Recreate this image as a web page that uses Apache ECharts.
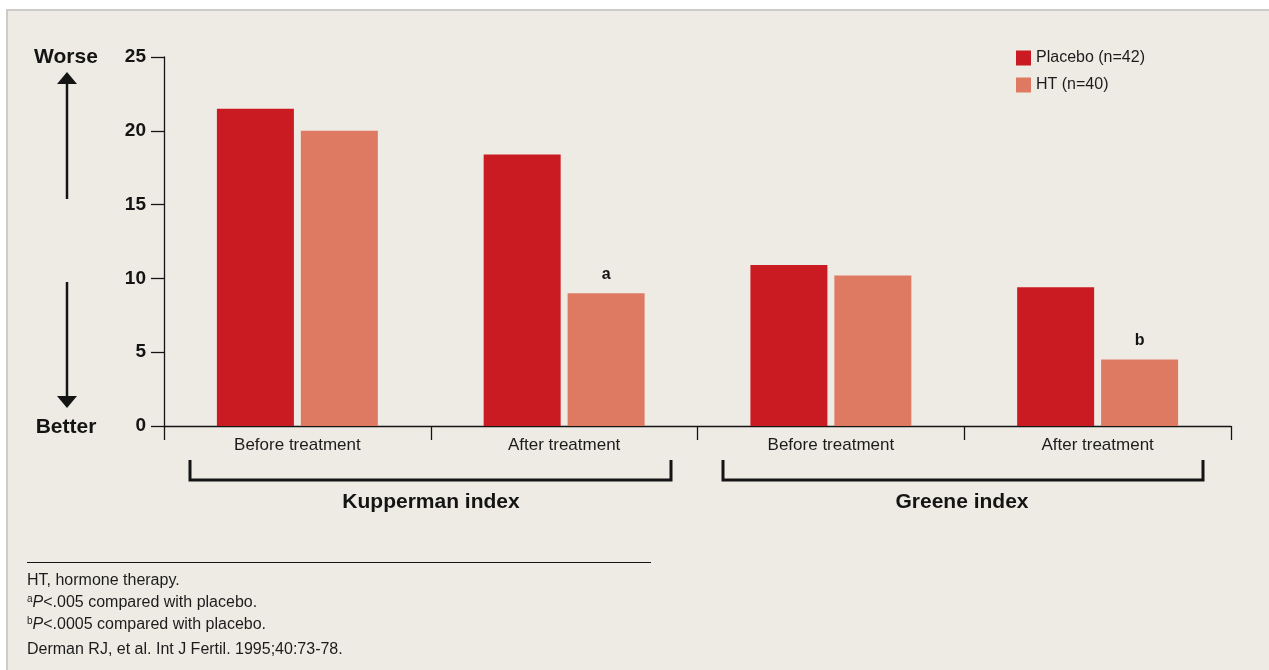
<!DOCTYPE html>
<html>
<head>
<meta charset="utf-8">
<script src="https://cdn.jsdelivr.net/npm/echarts@6/dist/echarts.min.js"></script>
<style>
  html, body { margin: 0; padding: 0; background: #ffffff; }
  #chart { width: 1269px; height: 670px; }
</style>
</head>
<body>
<div id="chart"></div>
<script>
// Mean symptom scores by index and treatment period
const categories = ['Before treatment', 'After treatment', 'Before treatment', 'After treatment'];
const seriesNames = ['Placebo (n=42)', 'HT (n=40)'];
const placeboScores = [21.5, 18.4, 10.9, 9.4];
const htScores = [20.0, 9.0, 10.2, 4.5];
const htSignificance = ['', 'a', '', 'b'];
const yTickValues = [0, 5, 10, 15, 20, 25];
const groupNames = ['Kupperman index', 'Greene index'];
const directionLabels = ['Worse', 'Better'];
const footnotes = [
  'HT, hormone therapy.',
  '{sup|a}{it|P}<.005 compared with placebo.',
  '{sup|b}{it|P}<.0005 compared with placebo.',
  'Derman RJ, et al. Int J Fertil. 1995;40:73-78.'
];

const FONT = '"Liberation Sans", "Helvetica Neue", Arial, sans-serif';
const INK = '#141414';
const PLACEBO_RED = '#CB1B22';
const HT_SALMON = '#DF7A62';
const PANEL = '#EEEBE4';

const chart = echarts.init(document.getElementById('chart'), null, { renderer: 'canvas' });

const htData = htScores.map((v, i) => ({
  value: v,
  label: { show: htSignificance[i] !== '', formatter: htSignificance[i] }
}));

// Decorations: panel, direction arrows, group brackets, footnotes
const graphics = [
  {
    type: 'rect', z: -10, silent: true,
    shape: { x: 7, y: 10, width: 1280, height: 680 },
    style: { fill: PANEL, stroke: '#CDCCC8', lineWidth: 2 }
  },
  // Worse / Better arrows
  { type: 'text', style: { text: directionLabels[0], x: 66, y: 57, align: 'center', verticalAlign: 'middle', font: 'bold 21px ' + FONT, fill: INK } },
  { type: 'text', style: { text: directionLabels[1], x: 66, y: 427, align: 'center', verticalAlign: 'middle', font: 'bold 21px ' + FONT, fill: INK } },
  { type: 'line', shape: { x1: 67, y1: 82, x2: 67, y2: 199 }, style: { stroke: INK, lineWidth: 2.5 } },
  { type: 'polygon', shape: { points: [[57, 84], [77, 84], [67, 72]] }, style: { fill: INK } },
  { type: 'line', shape: { x1: 67, y1: 282, x2: 67, y2: 398 }, style: { stroke: INK, lineWidth: 2.5 } },
  { type: 'polygon', shape: { points: [[57, 396], [77, 396], [67, 408]] }, style: { fill: INK } },
  // Group brackets
  { type: 'polyline', shape: { points: [[190, 460], [190, 480], [671, 480], [671, 460]] }, style: { stroke: INK, lineWidth: 3, fill: null } },
  { type: 'polyline', shape: { points: [[723, 460], [723, 480], [1203, 480], [1203, 460]] }, style: { stroke: INK, lineWidth: 3, fill: null } },
  { type: 'text', style: { text: groupNames[0], x: 431, y: 502, align: 'center', verticalAlign: 'middle', font: 'bold 21px ' + FONT, fill: INK } },
  { type: 'text', style: { text: groupNames[1], x: 962, y: 502, align: 'center', verticalAlign: 'middle', font: 'bold 21px ' + FONT, fill: INK } },
  // Footnote rule
  { type: 'line', shape: { x1: 27, y1: 562.5, x2: 651, y2: 562.5 }, style: { stroke: INK, lineWidth: 1 } }
];

const footY = [581, 603, 625, 650];
footnotes.forEach((t, i) => {
  graphics.push({
    type: 'text',
    style: {
      text: t, x: 27, y: footY[i], align: 'left', verticalAlign: 'middle',
      font: '16px ' + FONT, fill: '#1c1c1c', lineHeight: 17,
      rich: {
        sup: { fontSize: 10, fontFamily: FONT, fill: '#1c1c1c', verticalAlign: 'top', lineHeight: 10 },
        it: { fontSize: 16, fontStyle: 'italic', fontFamily: FONT, fill: '#1c1c1c', lineHeight: 17 }
      }
    }
  });
});

chart.setOption({
  backgroundColor: 'transparent',
  animation: false,
  textStyle: { fontFamily: FONT },
  grid: { left: 164, right: 38, top: 57, bottom: 244, containLabel: false },
  legend: {
    data: seriesNames,
    orient: 'vertical',
    left: 1016, top: 50,
    padding: 0,
    itemWidth: 15, itemHeight: 15, itemGap: 11,
    icon: 'rect',
    textStyle: { fontSize: 16, color: '#1c1c1c', fontFamily: FONT }
  },
  xAxis: {
    type: 'category',
    data: categories,
    axisLine: { lineStyle: { color: INK, width: 1.3 } },
    axisTick: { show: true, length: 14, lineStyle: { color: INK, width: 1.3 } },
    axisLabel: { fontSize: 17, color: '#1c1c1c', margin: 11, fontFamily: FONT },
    splitLine: { show: false }
  },
  yAxis: {
    type: 'value',
    min: yTickValues[0],
    max: yTickValues[yTickValues.length - 1],
    interval: yTickValues[1] - yTickValues[0],
    axisLine: { show: true, lineStyle: { color: INK, width: 1.3 } },
    axisTick: { show: true, length: 13, lineStyle: { color: INK, width: 1.3 } },
    axisLabel: { fontSize: 19, fontWeight: 'bold', color: INK, margin: 18, fontFamily: FONT },
    splitLine: { show: false }
  },
  series: [
    {
      name: seriesNames[0], type: 'bar', data: placeboScores,
      barWidth: 77, barGap: '9%',
      itemStyle: { color: PLACEBO_RED }
    },
    {
      name: seriesNames[1], type: 'bar', data: htData,
      barWidth: 77, barGap: '9%',
      itemStyle: { color: HT_SALMON },
      label: { position: 'top', distance: 11, fontSize: 16, fontWeight: 'bold', color: INK, fontFamily: FONT }
    }
  ],
  graphic: graphics
});
</script>
</body>
</html>
